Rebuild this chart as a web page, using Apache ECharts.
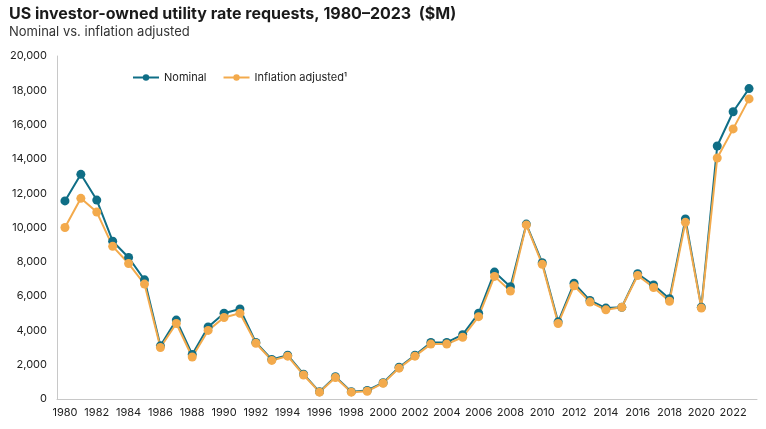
<!DOCTYPE html>
<html><head><meta charset="utf-8">
<script src="https://cdn.jsdelivr.net/npm/echarts@6/dist/echarts.min.js"></script>
<style>html,body{margin:0;padding:0;background:#fff}#c{width:766px;height:429px}</style>
</head><body><div id="c"></div>
<script>
const years = [];
for (let y = 1980; y <= 2023; y++) years.push(String(y));
const nominal = [11550,13100,11600,9200,8250,6950,3100,4600,2600,4200,5000,5250,3300,2300,2550,1450,420,1300,430,500,950,1850,2550,3300,3300,3750,5000,7400,6550,10200,7950,4500,6750,5750,5300,5350,7300,6650,5850,10500,5350,14750,16750,18100];
const inflation = [10000,11700,10900,8900,7900,6700,3000,4400,2450,4000,4750,5000,3250,2250,2500,1400,400,1250,400,450,920,1800,2500,3200,3200,3600,4800,7150,6300,10150,7850,4400,6600,5650,5200,5350,7200,6500,5700,10300,5300,14050,15750,17500];
const yTicks = [0,2000,4000,6000,8000,10000,12000,14000,16000,18000,20000];

const chart = echarts.init(document.getElementById('c'), null, {renderer:'canvas'});
const FONT = 'Inter, "Noto Sans", sans-serif';
chart.setOption({
  animation:false,
  textStyle:{fontFamily:FONT},
  title:{
    text:'US investor-owned utility rate requests, 1980\u20132023  ($M)',
    subtext:'Nominal vs. inflation adjusted',
    left:4, top:1, itemGap:4,
    textStyle:{fontFamily:FONT,fontSize:16,fontWeight:'bold',color:'#1a1a1a'},
    subtextStyle:{fontFamily:FONT,fontSize:13,color:'#333'}
  },
  legend:{
    top:67, left:127, itemGap:16, itemWidth:26, itemHeight:8,
    textStyle:{fontFamily:FONT,fontSize:11,color:'#222'},
    data:['Nominal','Inflation adjusted\u00b9']
  },
  grid:{left:57,right:9,top:56,bottom:30,containLabel:false},
  xAxis:{
    type:'category', data:years, boundaryGap:true,
    axisLine:{lineStyle:{color:'#c8c8c8',width:1}},
    axisTick:{show:false},
    axisLabel:{interval:1,color:'#222',fontSize:11,fontFamily:FONT,margin:8}
  },
  yAxis:{
    type:'value', min:0, max:20000, interval:2000,
    axisLine:{show:true,lineStyle:{color:'#c8c8c8',width:1}},
    axisTick:{show:false},
    splitLine:{show:false},
    axisLabel:{color:'#222',fontSize:11,fontFamily:FONT,margin:10,
      formatter:v=>v.toLocaleString('en-US')}
  },
  series:[
    {name:'Nominal',type:'line',data:nominal,symbol:'circle',symbolSize:9,
     lineStyle:{color:'#0f6e86',width:2},itemStyle:{color:'#0f6e86'}},
    {name:'Inflation adjusted\u00b9',type:'line',data:inflation,symbol:'circle',symbolSize:9,
     lineStyle:{color:'#f3aa4c',width:2},itemStyle:{color:'#f3aa4c'}}
  ]
});
</script></body></html>
